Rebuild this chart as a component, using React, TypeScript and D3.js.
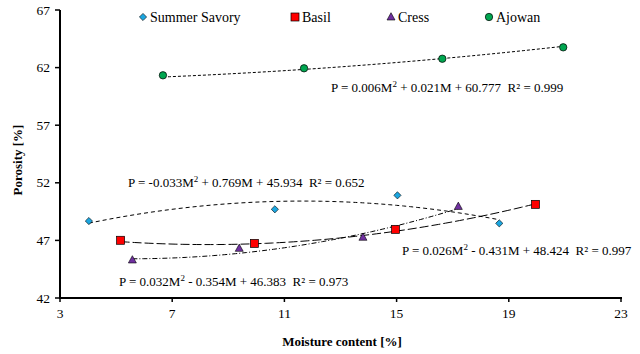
import * as d3 from 'd3';
import React from 'react';

// moisture content [%] and porosity [%] for each seed
const savoryM = [4.03, 10.66, 15.03, 18.66];
const savoryP = [48.68, 49.7, 50.91, 48.48];
const basilM = [5.16, 9.93, 14.96, 19.95];
const basilP = [47.01, 46.74, 47.96, 50.13];
const cressM = [5.58, 9.39, 13.8, 17.2];
const cressP = [45.3, 46.31, 47.27, 49.95];
const ajowanM = [6.67, 11.7, 16.63, 20.94];
const ajowanP = [61.33, 61.94, 62.77, 63.76];

// fitted quadratic coefficients [a, b, c] : P = aM^2 + bM + c
const savoryFit = [-0.033, 0.769, 45.934];
const basilFit = [0.026, -0.431, 48.424];
const cressFit = [0.032, -0.354, 46.383];
const ajowanFit = [0.006, 0.021, 60.777];

const xTicks = [3, 7, 11, 15, 19, 23];
const yTicks = [42, 47, 52, 57, 62, 67];

const font = "'Liberation Serif', 'Times New Roman', Times, serif";

const series = [
  { name: 'Summer Savory', m: savoryM, p: savoryP, fit: savoryFit, shape: 'diamond', color: '#1ba6e0', dash: '4,3',
    eq: ['P = -0.033M', ' + 0.769M + 45.934  R² = 0.652'], ex: 128, ey: 187 },
  { name: 'Basil', m: basilM, p: basilP, fit: basilFit, shape: 'square', color: '#ff0000', dash: '9,3',
    eq: ['P = 0.026M', ' - 0.431M + 48.424  R² = 0.997'], ex: 402, ey: 255 },
  { name: 'Cress', m: cressM, p: cressP, fit: cressFit, shape: 'triangle', color: '#7030a0', dash: '5,2,1,2',
    eq: ['P = 0.032M', ' - 0.354M + 46.383  R² = 0.973'], ex: 119, ey: 286 },
  { name: 'Ajowan', m: ajowanM, p: ajowanP, fit: ajowanFit, shape: 'circle', color: '#00a650', dash: '3,2',
    eq: ['P = 0.006M', ' + 0.021M + 60.777  R² = 0.999'], ex: 331, ey: 92 },
];

const legendX = [143, 295, 391, 489];

const txt = { fontFamily: font, whiteSpace: 'pre' } as React.CSSProperties;

function Marker({ shape, color, x, y }) {
  if (shape === 'diamond') {
    return <path d={`M${x},${y - 3.6}L${x + 3.6},${y}L${x},${y + 3.6}L${x - 3.6},${y}Z`} fill={color} stroke="#000" strokeWidth={0.6} />;
  }
  if (shape === 'square') {
    return <rect x={x - 4} y={y - 4} width={8} height={8} fill={color} stroke="#000" strokeWidth={0.7} />;
  }
  if (shape === 'triangle') {
    return <path d={`M${x},${y - 4.3}L${x + 4},${y + 3}L${x - 4},${y + 3}Z`} fill={color} stroke="#000" strokeWidth={0.6} />;
  }
  return <circle cx={x} cy={y} r={3.7} fill={color} stroke="#000" strokeWidth={0.7} />;
}

export default function App() {
  const x = d3.scaleLinear().domain([3, 23]).range([60, 621]);
  const y = d3.scaleLinear().domain([42, 67]).range([298, 10]);

  const line = d3.line<number[]>().x((d) => x(d[0])).y((d) => y(d[1]));

  return (
    <svg width={640} height={354} style={{ position: 'absolute', left: 0, top: 0, background: '#fff', fontFamily: font }}>
      {/* axes */}
      <line x1={60} x2={60} y1={y(67)} y2={y(42) + 1} stroke="#000" strokeWidth={2} />
      <line x1={59} x2={622} y1={298} y2={298} stroke="#000" strokeWidth={2} />
      {yTicks.map((t) => (
        <g key={'y' + t}>
          <line x1={55} x2={60} y1={y(t)} y2={y(t)} stroke="#000" strokeWidth={1.5} />
          <text x={50} y={y(t) + 4.5} fontSize={13.5} textAnchor="end" style={txt}>{t}</text>
        </g>
      ))}
      {xTicks.map((t) => (
        <g key={'x' + t}>
          <line x1={x(t)} x2={x(t)} y1={298} y2={302} stroke="#000" strokeWidth={1.5} />
          <text x={x(t)} y={318} fontSize={13.5} textAnchor="middle" style={txt}>{t}</text>
        </g>
      ))}
      <text x={342} y={346} fontSize={13} fontWeight="bold" textAnchor="middle" style={txt}>Moisture content [%]</text>
      <text transform="translate(22,160) rotate(-90)" fontSize={13} fontWeight="bold" textAnchor="middle" style={txt}>Porosity [%]</text>

      {/* trend lines */}
      {series.map((s) => {
        const [a, b, c] = s.fit;
        const lo = d3.min(s.m), hi = d3.max(s.m);
        const pts = d3.range(0, 61).map((i) => {
          const m = lo + ((hi - lo) * i) / 60;
          return [m, a * m * m + b * m + c];
        });
        return <path key={'f' + s.name} d={line(pts)} fill="none" stroke="#000" strokeWidth={1} strokeDasharray={s.dash} />;
      })}

      {/* points */}
      {series.map((s) =>
        s.m.map((m, i) => <Marker key={s.name + i} shape={s.shape} color={s.color} x={x(m)} y={y(s.p[i])} />)
      )}

      {/* equations */}
      {series.map((s) => (
        <text key={'e' + s.name} x={s.ex} y={s.ey} fontSize={13} style={txt}>
          {s.eq[0]}
          <tspan dy={-5} fontSize={9}>2</tspan>
          <tspan dy={5}>{s.eq[1]}</tspan>
        </text>
      ))}

      {/* legend */}
      {series.map((s, i) => (
        <g key={'l' + s.name}>
          <Marker shape={s.shape} color={s.color} x={legendX[i]} y={17} />
          <text x={legendX[i] + 7} y={22} fontSize={14} style={txt}>{s.name}</text>
        </g>
      ))}
    </svg>
  );
}
